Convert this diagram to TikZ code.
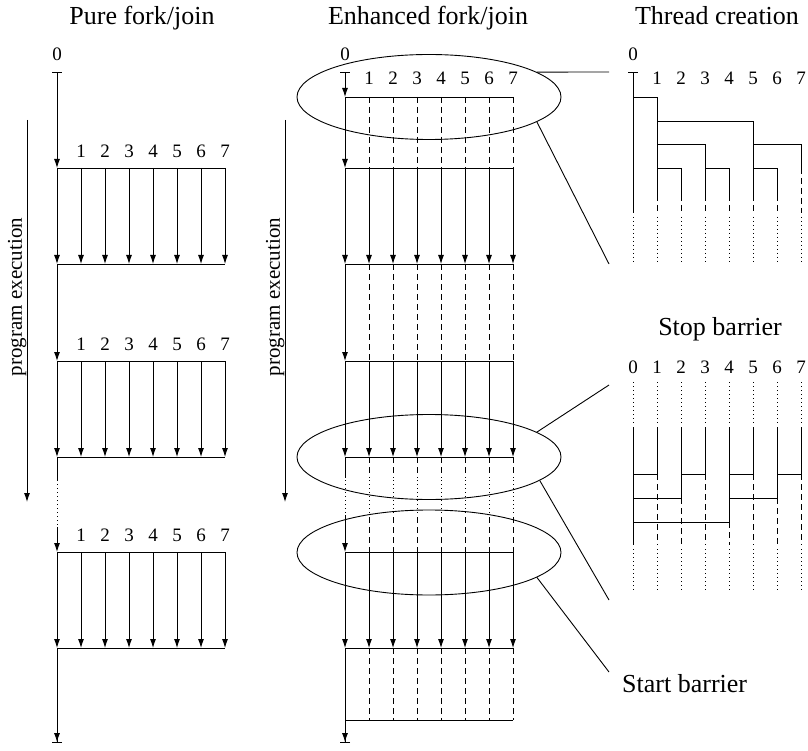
\documentclass[tikz,border=0pt]{standalone}
\usepackage{fontspec}
\setmainfont{Liberation Serif}
\usetikzlibrary{arrows.meta,shapes.geometric}

\tikzset{
  thr/.style={line width=0.9pt},
  fj/.style={thr,-{Latex[length=9pt,width=6pt]}},
  idle/.style={thr,dash pattern=on 6pt off 4pt},
  gap/.style={thr,dash pattern=on 1pt off 3pt},
  title/.style={font=\fontsize{26}{30}\selectfont, anchor=base, inner sep=0pt},
  num/.style={font=\fontsize{19}{22}\selectfont, anchor=base, inner sep=0pt},
  zoomring/.style={draw, ellipse, thr, minimum width=264pt, minimum height=85pt, inner sep=0pt},
}

\begin{document}
\begin{tikzpicture}[x=1pt,y=-1pt]
  \useasboundingbox (0,0) rectangle (808,751);

  % titles
  \node[title] (tpure) at (142,25) {Pure fork/join};
  \node[title] (tenh) at (428,25) {Enhanced fork/join};
  \node[title] (tcreate) at (717,25) {Thread creation};
  \node[title] (tstop) at (720,335) {Stop barrier};
  \node[title, anchor=base west] (tstart) at (622,692) {Start barrier};

  % time axis
  \foreach \px/\nm in {27/a,285/b} {
    \draw[fj] (\px,120) -- (\px,502);
    \node[rotate=90, anchor=south, inner sep=0.5pt, font=\fontsize{21}{24}\selectfont] (pe\nm) at (\px,297) {program execution};
  }

  % pure fork/join
  \node[num] (pz) at (57,61) {0};
  \draw[thr,{Bar[width=10pt]}-{Latex[length=9pt,width=6pt]}] (57,72) -- (57,168);
  \foreach \f/\j in {168/264, 361/457, 552/648} {
    \draw[thr] (57,\f) -- (225,\f);
    \draw[thr] (57,\j) -- (225,\j);
    \foreach \k in {0,...,7} \draw[fj] (57+24*\k,\f) -- (57+24*\k,\j);
    \foreach \k in {1,...,7} \node[num] (p\f-\k) at (57+24*\k,\f-10.5) {\k};
  }
  \draw[fj] (57,264) -- (57,361);
  \draw[thr] (57,457) -- (57,480);
  \draw[gap] (57,480) -- (57,527);
  \draw[fj] (57,527) -- (57,552);
  \draw[thr,-{Latex[length=9pt,width=6pt] Bar[width=10pt]}] (57,648) -- (57,743);

  % enhanced fork/join
  \node[num] (ez) at (345,61) {0};
  \foreach \k in {1,...,7} \node[num] (e-\k) at (345+24*\k,85) {\k};
  \draw[thr,{Bar[width=10pt]}-{Latex[length=9pt,width=6pt]}] (345,72) -- (345,97);
  \foreach \h in {97,168,264,361,457,552,648,720} \draw[thr] (345,\h) -- (513,\h);
  \foreach \k in {1,...,7} {
    \draw[idle] (345+24*\k,97) -- (345+24*\k,168);
    \draw[idle] (345+24*\k,264) -- (345+24*\k,361);
    \draw[idle] (345+24*\k,457) -- (345+24*\k,478);
    \draw[gap] (345+24*\k,480) -- (345+24*\k,515);
    \draw[idle] (345+24*\k,517) -- (345+24*\k,552);
    \draw[idle] (345+24*\k,648) -- (345+24*\k,720);
  }
  \foreach \f/\j in {168/264, 361/457, 552/648}
    \foreach \k in {0,...,7} \draw[fj] (345+24*\k,\f) -- (345+24*\k,\j);
  \draw[fj] (345,97) -- (345,168);
  \draw[fj] (345,264) -- (345,361);
  \draw[thr] (345,457) -- (345,478);
  \draw[gap] (345,480) -- (345,515);
  \draw[fj] (345,515) -- (345,552);
  \draw[thr,-{Latex[length=9pt,width=6pt] Bar[width=10pt]}] (345,648) -- (345,743);

  % close-up rings
  \node[zoomring] (rcreate) at (429,97) {};
  \node[zoomring] (rstop) at (429,457) {};
  \node[zoomring] (rstart) at (429,552.5) {};

  % thread creation
  \node[num] (cz) at (633,61) {0};
  \foreach \k in {1,...,7} \node[num] (c-\k) at (633+24*\k,85) {\k};
  \draw[thr,{Bar[width=10pt]}-] (633,72) -- (633,213);
  \draw[thr] (633,97) -| (657,195);
  \draw[thr] (657,121) -| (753,195);
  \draw[thr] (657,144) -| (705,195);
  \draw[thr] (753,144) -| (801,168);
  \draw[thr] (657,168) -| (681,195);
  \draw[thr] (705,168) -| (729,195);
  \draw[thr] (753,168) -| (777,195);
  \foreach \k in {1,...,6} \draw[idle] (633+24*\k,195) -- (633+24*\k,213);
  \draw[idle] (801,168) -- (801,213);
  \foreach \k in {0,...,7} \draw[gap] (633+24*\k,217) -- (633+24*\k,262);

  % stop barrier
  \foreach \k in {0,...,7} {
    \node[num] (s-\k) at (633+24*\k,373) {\k};
    \draw[gap] (633+24*\k,382) -- (633+24*\k,425);
    \draw[gap] (633+24*\k,549) -- (633+24*\k,592);
  }
  \draw[thr] (633,427) -- (633,545);
  \draw[thr] (657,427) |- (633,474);
  \draw[thr] (705,427) |- (681,474) -- (681,427);
  \draw[thr] (753,427) |- (729,474);
  \draw[thr] (801,427) |- (777,474) -- (777,427);
  \draw[thr] (681,474) |- (633,498);
  \draw[thr] (777,474) |- (729,498);
  \draw[thr] (729,427) |- (633,522);
  \foreach \k in {1,3,5,7} \draw[idle] (633+24*\k,474) -- (633+24*\k,545);
  \foreach \k in {2,6} \draw[idle] (633+24*\k,498) -- (633+24*\k,545);
  \draw[idle] (729,522) -- (729,545);

  % call-outs
  \coordinate (kA) at (609,72);
  \coordinate (kB) at (609,264);
  \coordinate (kC) at (609,385);
  \coordinate (kD) at (609,600);
  \coordinate (kE) at (609,672);
  \draw[thr] (rcreate.13) -- (kA);
  \draw[thr] (rcreate.-13) -- (kB);
  \draw[thr] (rstop.13) -- (kC);
  \draw[thr] (rstop.-12) -- (kD);
  \draw[thr] (rstart.-13) -- (kE);
\end{tikzpicture}
\end{document}
